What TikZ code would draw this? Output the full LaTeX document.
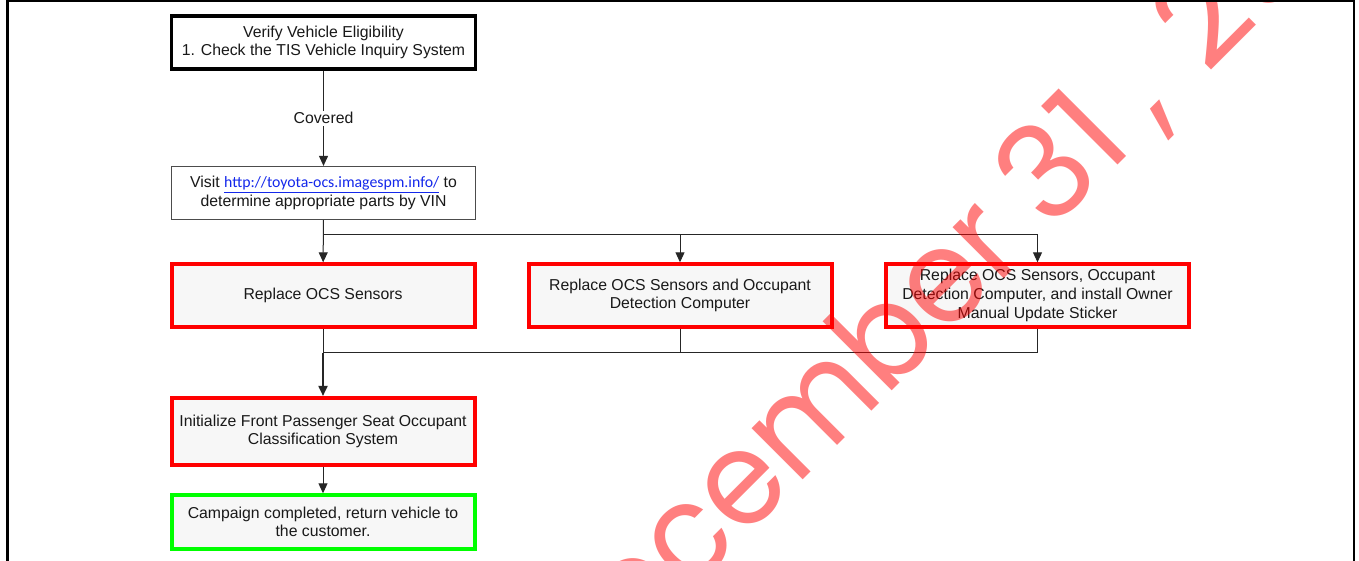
\documentclass[tikz,border=0pt]{standalone}
\usepackage{fontspec}
\setmainfont{Liberation Sans}
\newfontfamily\linkfont{Carlito}
\newfontfamily\wmfont{Poppins}
\newfontfamily\wmnarrow[FakeStretch=0.93]{Poppins}
\usetikzlibrary{arrows.meta}
\definecolor{linkblue}{RGB}{20,40,235}
\definecolor{boxgray}{RGB}{247,247,247}
\definecolor{okgreen}{RGB}{0,255,0}
\tikzset{
  txt/.style={font=\fontsize{15.8}{18.7}\selectfont, text=black!90, align=center, inner sep=0pt},
  startbox/.style={txt, draw=black, line width=3.5pt, fill=white, minimum width=304pt, minimum height=53pt},
  infobox/.style={txt, draw=black!70, line width=1.2pt, fill=white, minimum width=304pt, minimum height=53pt},
  redbox/.style={txt, draw=red, line width=4pt, fill=boxgray, minimum width=303pt, minimum height=62.4pt},
  greenbox/.style={txt, draw=okgreen, line width=4pt, fill=boxgray, minimum width=303pt, minimum height=53.4pt},
  conn/.style={draw=black!85, line width=1pt},
  arr/.style={conn, -{Triangle[length=10pt,width=9pt]}},
  wmark/.style={rotate=45, inner sep=0pt, font=\wmfont\fontsize{132}{132}\selectfont, text=red, opacity=0.5},
}
\begin{document}
\begin{tikzpicture}[x=1pt,y=1pt]
\useasboundingbox (0,0) rectangle (1359,561);
\fill[white] (0,0) rectangle (1359,561);
% nodes
\node[startbox] (b1) at (323.5,518.5) {Verify Vehicle Eligibility\\1. Check the TIS Vehicle Inquiry System};
\node[infobox] (b2) at (323.5,368) {Visit {\linkfont\color{linkblue}\underline{http://toyota-ocs.imagespm.info/}} to\\determine appropriate parts by VIN};
\node[redbox] (b3) at (323,265.5) {Replace OCS Sensors};
\node[redbox] (b4) at (680,265.5) {Replace OCS Sensors and Occupant\\Detection Computer};
\node[redbox] (b5) at (1037.5,265.5) {Replace OCS Sensors, Occupant\\Detection Computer, and install Owner\\Manual Update Sticker};
\node[redbox, minimum height=66.7pt] (b6) at (323,129.7) {Initialize Front Passenger Seat Occupant\\Classification System};
\node[greenbox] (b7) at (323,39) {Campaign completed, return vehicle to\\the customer.};
% connectors
\draw[arr] (b1) -- node[txt, fill=white, inner sep=2pt] (cov) {Covered} (b2);
\coordinate (br) at (323.5,326.3);
\coordinate (mg) at (323,208.3);
\draw[arr] (b2) -- (b3);
\draw[arr] (br) -| (b4.north);
\draw[arr] (br) -| (b5.north);
\draw[conn] (b3) -- (mg);
\draw[conn] (b4.south) |- (mg);
\draw[conn] (b5.south) |- (mg);
\draw[arr, line width=1.8pt] (mg) -- (b6);
\draw[arr] (b6) -- (b7);
% watermark
\begin{scope}
\clip (0,0) rectangle (1359,561);
\node[wmark, font=\wmnarrow\fontsize{132}{132}\selectfont, anchor=base east] (wm1) at (1030.5,308.5) {December};
\node[wmark, anchor=base west] (wm2) at (1050,328) {31};
\node[wmark, anchor=base west] (wm3) at (1155.5,433.5) {,};
\node[wmark, anchor=base west] (wm4) at (1207,485) {20};
\end{scope}
% frame
\draw[black, line width=2.6pt] (7.5,-5) -- (7.5,559.8) -- (1354,559.8) -- (1354,-5);
\end{tikzpicture}
\end{document}
